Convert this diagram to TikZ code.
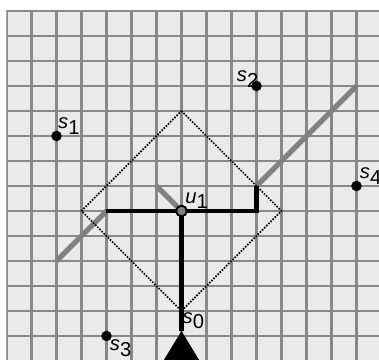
\documentclass[tikz,border=0pt]{standalone}
\usepackage{fontspec}
\setmainfont{Liberation Sans}
\usepackage{xcolor}
\usetikzlibrary{positioning}
\definecolor{kisi}{HTML}{EAEAEA}
\definecolor{garis}{HTML}{888888}
\newcommand{\titiknama}[2]{\textit{#1}\raisebox{-0.55ex}{#2}}
\tikzset{
  titik/.style={circle, fill=black, inner sep=0pt, minimum size=6pt},
  pusat/.style={circle, fill=gray, draw=black, line width=1pt, inner sep=0pt, minimum size=6pt},
  teks/.style={inner sep=0.5pt, font=\fontsize{11.5}{12}\selectfont},
  jalur/.style={line width=2.4pt, black},
  arah/.style={line width=3pt, gray},
  batas/.style={dash pattern=on 0.9pt off 0.8pt, line width=1pt}
}
\begin{document}
\begin{tikzpicture}[x=0.5cm, y=0.5cm, node distance=0pt]
  \useasboundingbox (-7.26,-5.96) rectangle (7.9,8.44);
  \begin{scope}
    \clip (-7,-5.96) rectangle (7.9,8);
    \fill[kisi] (-7,-6) rectangle (8,8);
    \draw[garis, line width=1.4pt, step=1] (-8,-7) grid (9,9);
  \end{scope}

  \node[pusat] (u1) at (0,0) {};
  \coordinate (s0) at (0,-4);
  \coordinate (puncak) at (0,-4.8);
  \coordinate (kiri) at (-3,0);
  \coordinate (siku) at (3,0);
  \coordinate (ujung) at (3,1);
  \node[titik] (s1) at (-5,3) {};
  \node[titik] (s2) at (3,5) {};
  \node[titik] (s3) at (-3,-5) {};
  \node[titik] (s4) at (7,1) {};

  \draw[arah] (-5,-2) -- (kiri);
  \draw[arah] (-1,1) -- (u1.center);
  \draw[arah] (ujung) -- (7,5);
  \draw[batas] (0,4) -- (4,0) -- (s0) -- (-4,0) -- cycle;
  \draw[jalur] (kiri) -- (siku) -- (ujung);
  \draw[jalur] (puncak) -- (u1.center);
  \begin{scope}
    \clip (-7,-5.96) rectangle (7.9,8);
    \fill (puncak) -- (-0.85,-6.2) -- (0.85,-6.2) -- cycle;
  \end{scope}
  \node[pusat] at (u1) {};

  \node[teks, above right=-2pt and -2pt of s1] (l1) {\titiknama{s}{1}};
  \node[teks, above left=-4pt and -4pt of s2] (l2) {\titiknama{s}{2}};
  \node[teks, below right=-1pt and -1pt of s3] (l3) {\titiknama{s}{3}};
  \node[teks, above right=-2pt and -1pt of s4] (l4) {\titiknama{s}{4}};
  \node[teks, below right=0pt and 0pt of s0] (l0) {\titiknama{s}{0}};
  \node[teks, above right=-2pt and -1pt of u1] (lu) {\titiknama{u}{1}};
\end{tikzpicture}
\end{document}
